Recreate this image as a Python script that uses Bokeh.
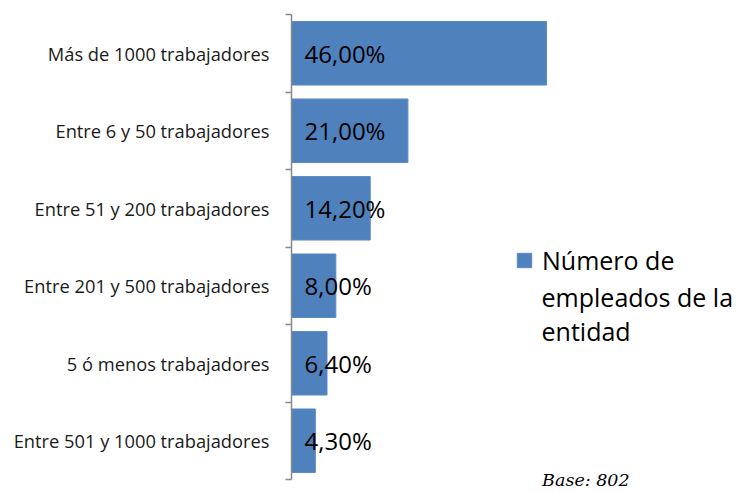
from bokeh.plotting import figure
from bokeh.models import FixedTicker, Label, Legend, LegendItem, Range1d, ColumnDataSource
from bokeh.core.properties import value
from bokeh.embed import file_html
from bokeh.resources import INLINE

categories = ["Entre 501 y 1000 trabajadores", "5 ó menos trabajadores", "Entre 201 y 500 trabajadores",
              "Entre 51 y 200 trabajadores", "Entre 6 y 50 trabajadores", "Más de 1000 trabajadores"]
values = [4.3, 6.4, 8.0, 14.2, 21.0, 46.0]
value_labels = ["4,30%", "6,40%", "8,00%", "14,20%", "21,00%", "46,00%"]
series_lines = ["Número de", "empleados de la", "entidad"]
note = "Base: 802"

pos = [i + 0.5 for i in range(len(categories))]
src = ColumnDataSource(dict(y=pos, v=values, lab=value_labels, zero=[0] * len(values)))

p = figure(width=739, height=492, output_backend="svg", toolbar_location=None,
           x_range=Range1d(0, 80.8), y_range=Range1d(-0.1677, 6.181),
           min_border_left=291, min_border_right=0, min_border_top=0, min_border_bottom=0)
p.outline_line_color = None
p.xgrid.visible = False
p.ygrid.visible = False
p.xaxis.visible = False

r = p.hbar(y="y", left=0, right="v", height=0.82, source=src, fill_color="#4F81BD", line_color="#5b8bc4")
p.text(x="zero", y="y", text="lab", source=src, x_offset=13, text_baseline="middle", text_align="left",
       text_font=value("Open Sans"), text_font_size="24px", text_color="#000000")

ya = p.yaxis[0]
ya.ticker = FixedTicker(ticks=pos, minor_ticks=list(range(len(categories) + 1)))
ya.major_label_overrides = {pp: c for pp, c in zip(pos, categories)}
ya.bounds = (0, len(categories))
ya.axis_line_color = "#898989"
ya.axis_line_width = 1.5
ya.major_tick_out = 0
ya.major_tick_in = 0
ya.minor_tick_out = 6
ya.minor_tick_in = 0
ya.minor_tick_line_color = "#898989"
ya.minor_tick_line_width = 1.5
ya.major_label_standoff = 16
ya.major_label_text_font = "Open Sans"
ya.major_label_text_font_size = "18.3px"
ya.major_label_text_color = "#1a1a1a"

legend = Legend(items=[LegendItem(label=series_lines[0], renderers=[r])], location=(224, 215),
                glyph_width=18, glyph_height=18, label_standoff=9, padding=0, margin=0,
                border_line_color=None, background_fill_alpha=0,
                label_text_font="Open Sans", label_text_font_size="25px", label_text_color="#000000")
p.add_layout(legend, "center")
for txt, yy in zip(series_lines[1:], [2.36, 1.92]):
    p.add_layout(Label(x=45.1, y=yy, text=txt, text_font="Open Sans", text_font_size="25px",
                       text_baseline="alphabetic", text_color="#000000"))

p.add_layout(Label(x=45.2, y=0.0, text=note, text_font="DejaVu Serif", text_font_style="italic",
                   text_font_size="17.5px", text_baseline="alphabetic", text_color="#000000"))

open("out.html", "w").write(file_html(p, INLINE))
